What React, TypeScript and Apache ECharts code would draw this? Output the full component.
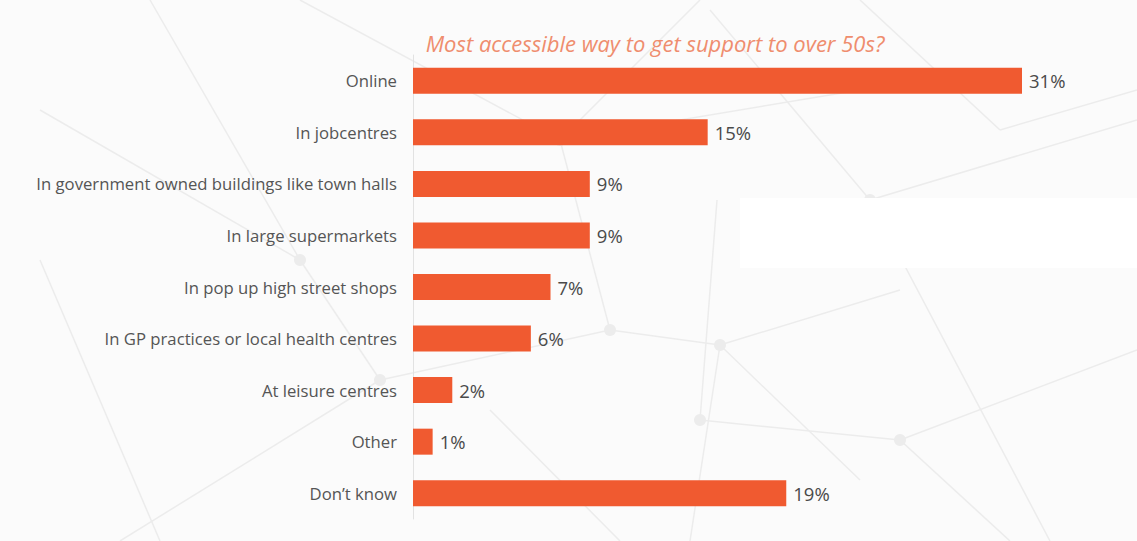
import React, { useEffect, useRef } from "react";
import * as echarts from "echarts";

const categories = [
  "Online",
  "In jobcentres",
  "In government owned buildings like town halls",
  "In large supermarkets",
  "In pop up high street shops",
  "In GP practices or local health centres",
  "At leisure centres",
  "Other",
  "Don\u2019t know",
];
const values = [31, 15, 9, 9, 7, 6, 2, 1, 19];
const title = "Most accessible way to get support to over 50s?";

// Faint network texture behind the chart: segments as [x1, y1, x2, y2]
const netLines: number[][] = [
  [300, 0, 560, 140], [560, 140, 700, 0], [560, 140, 610, 330], [610, 330, 720, 345],
  [720, 345, 900, 290], [720, 345, 860, 480], [720, 345, 690, 541], [610, 330, 380, 380],
  [380, 380, 120, 541], [380, 380, 300, 260], [300, 260, 40, 110], [710, 10, 870, 200],
  [870, 200, 1137, 120], [870, 200, 1050, 541], [717, 200, 700, 420], [700, 420, 900, 440],
  [900, 440, 1137, 350], [900, 440, 1010, 541], [860, 0, 1000, 130], [1000, 130, 1137, 90],
  [40, 260, 160, 541], [150, 0, 300, 260], [560, 140, 860, 90], [490, 410, 620, 541],
];
const netNodes: number[][] = [
  [560, 140], [610, 330], [720, 345], [380, 380], [300, 260], [870, 200], [700, 420], [900, 440],
];

export default function App() {
  const ref = useRef<HTMLDivElement>(null);
  useEffect(() => {
    document.body.style.margin = "0";
    const chart = echarts.init(ref.current!, null, { renderer: "svg" });
    const bg: any[] = [
      { type: "rect", shape: { x: 0, y: 0, width: 1137, height: 541 }, style: { fill: "#fbfbfb" }, z: -20 },
    ];
    netLines.forEach(([x1, y1, x2, y2]) =>
      bg.push({
        type: "line",
        shape: { x1, y1, x2, y2 },
        style: { stroke: "#ececec", lineWidth: 1.5 },
        z: -10,
      })
    );
    netNodes.forEach(([cx, cy]) =>
      bg.push({ type: "circle", shape: { cx, cy, r: 6 }, style: { fill: "#ececec" }, z: -10 })
    );
    bg.push({
      type: "rect",
      shape: { x: 740, y: 198, width: 397, height: 70 },
      style: { fill: "#ffffff" },
      z: -5,
    });
    chart.setOption({
      animation: false,
      backgroundColor: "transparent",
      graphic: bg,
      title: {
        text: title,
        left: 650,
        top: 27,
        textAlign: "center",
        textStyle: {
          fontFamily: "Open Sans",
          fontStyle: "italic",
          fontWeight: "normal",
          fontSize: 22,
          color: "#ef8d6e",
        },
      },
      grid: { left: 413, right: 115, top: 55, bottom: 22, containLabel: false },
      xAxis: {
        type: "value",
        min: 0,
        max: 31,
        show: false,
      },
      yAxis: {
        type: "category",
        data: categories,
        inverse: true,
        axisLine: { show: true, lineStyle: { color: "#e2e2e2", width: 1 } },
        axisTick: { show: false },
        axisLabel: {
          margin: 16,
          fontFamily: "Open Sans",
          fontSize: 16.7,
          color: "#555555",
        },
        splitLine: { show: false },
      },
      series: [
        {
          type: "bar",
          data: values,
          barWidth: 26,
          itemStyle: { color: "#f05a30" },
          label: {
            show: true,
            position: "right",
            distance: 7,
            formatter: "{c}%",
            fontFamily: "Open Sans",
            fontSize: 18.5,
            color: "#4a4a4a",
          },
        },
      ],
    });
    return () => chart.dispose();
  }, []);
  return <div ref={ref} style={{ width: 1137, height: 541 }} />;
}
